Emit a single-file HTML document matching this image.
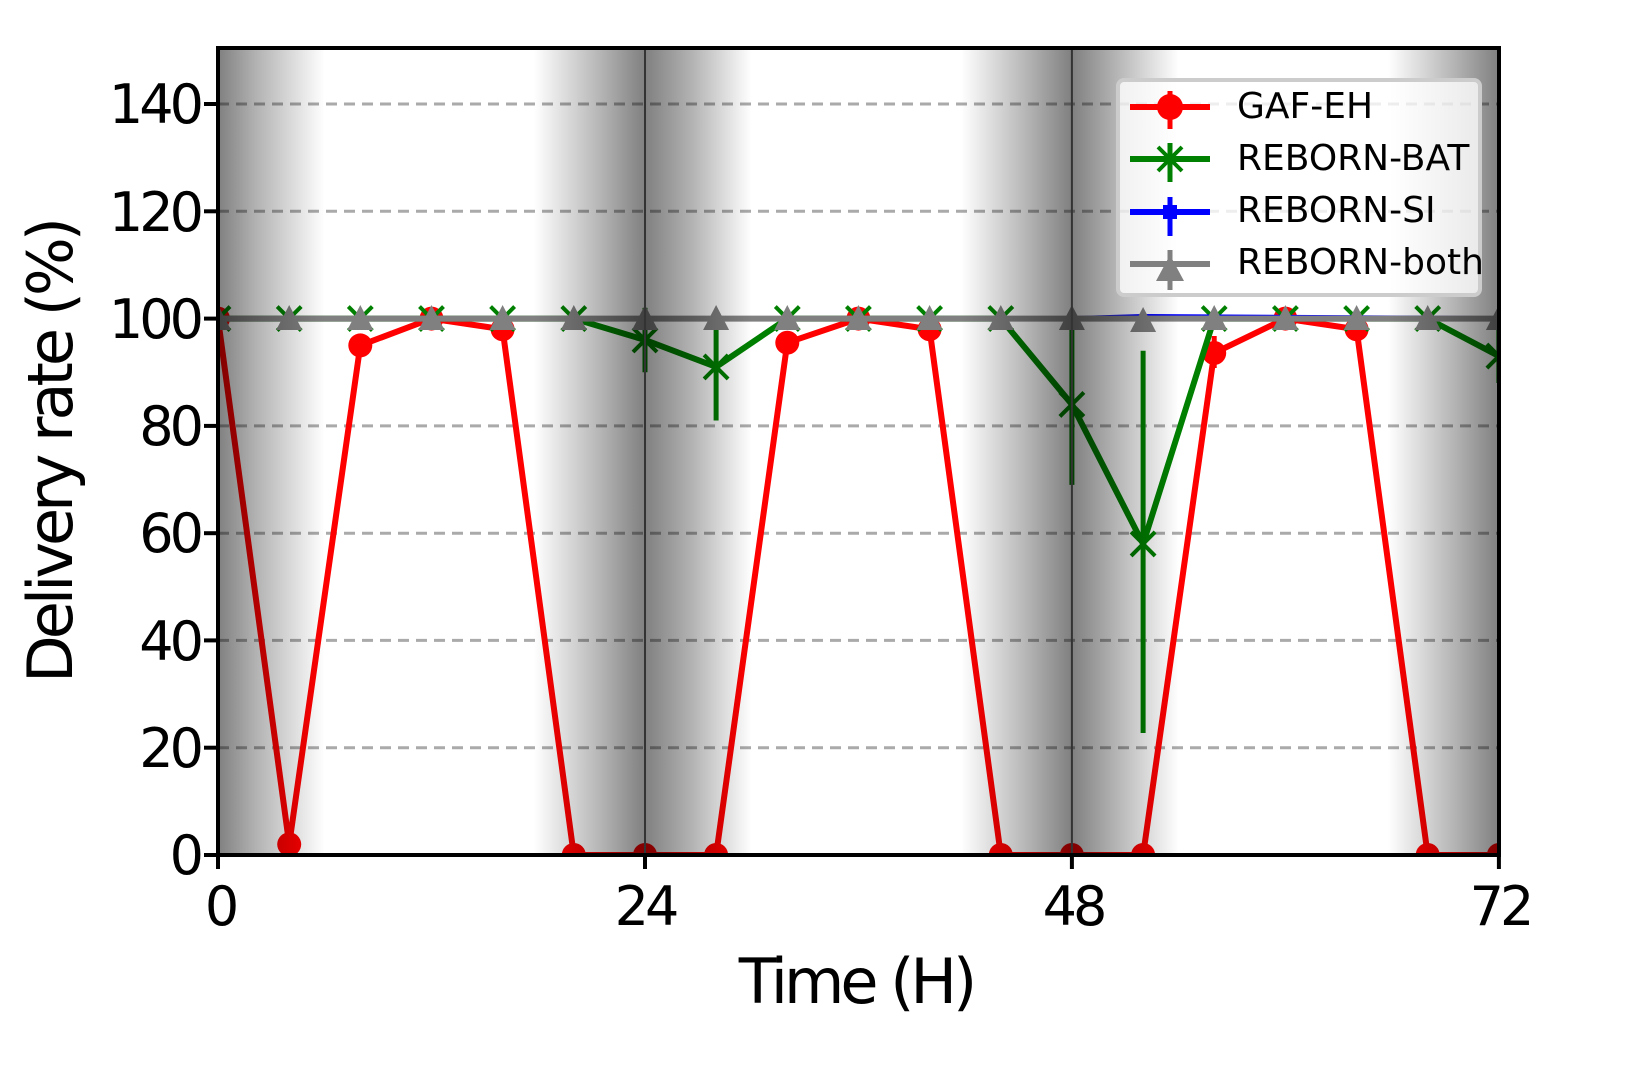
<!DOCTYPE html>
<html><head><meta charset="utf-8"><style>
html,body{margin:0;padding:0;background:#fff;}
svg{display:block;}
text{font-family:"DejaVu Sans","Liberation Sans",sans-serif;}
</style></head><body>
<svg width="1629" height="1082" viewBox="0 0 1629 1082" xmlns="http://www.w3.org/2000/svg">
<defs>
<linearGradient id="sh" x1="218" x2="1499" y1="0" y2="0" gradientUnits="userSpaceOnUse">
<stop offset="0" stop-color="#000" stop-opacity="0.5"/>
<stop offset="0.03" stop-color="#000" stop-opacity="0.3"/>
<stop offset="0.0833" stop-color="#000" stop-opacity="0"/>
<stop offset="0.2466" stop-color="#000" stop-opacity="0"/>
<stop offset="0.30" stop-color="#000" stop-opacity="0.3"/>
<stop offset="0.3333" stop-color="#000" stop-opacity="0.5"/>
<stop offset="0.37" stop-color="#000" stop-opacity="0.3"/>
<stop offset="0.4166" stop-color="#000" stop-opacity="0"/>
<stop offset="0.58" stop-color="#000" stop-opacity="0"/>
<stop offset="0.633" stop-color="#000" stop-opacity="0.3"/>
<stop offset="0.6666" stop-color="#000" stop-opacity="0.5"/>
<stop offset="0.70" stop-color="#000" stop-opacity="0.3"/>
<stop offset="0.75" stop-color="#000" stop-opacity="0"/>
<stop offset="0.9133" stop-color="#000" stop-opacity="0"/>
<stop offset="0.966" stop-color="#000" stop-opacity="0.3"/>
<stop offset="1" stop-color="#000" stop-opacity="0.5"/>
</linearGradient>
<clipPath id="cp"><rect x="218" y="48" width="1281" height="807"/></clipPath>
</defs>
<g stroke="#aaa" stroke-width="3" stroke-dasharray="11,7">
<line x1="218" x2="1499" y1="747.7" y2="747.7"/>
<line x1="218" x2="1499" y1="640.4" y2="640.4"/>
<line x1="218" x2="1499" y1="533.2" y2="533.2"/>
<line x1="218" x2="1499" y1="425.9" y2="425.9"/>
<line x1="218" x2="1499" y1="318.6" y2="318.6"/>
<line x1="218" x2="1499" y1="211.3" y2="211.3"/>
<line x1="218" x2="1499" y1="104" y2="104"/>
</g>
<g clip-path="url(#cp)">
<polyline fill="none" stroke="#f00" stroke-width="6" points="218,318.6 289.2,844.3 360.3,345.4 431.5,318.6 502.6,329.3 573.8,855 645,855 716.1,855 787.3,342.7 858.4,318.6 929.6,329.3 1000.8,855 1071.9,855 1143.1,855 1214.2,353 1285.4,318.6 1356.6,329.3 1427.7,855 1498.9,855"/>
<g fill="#f00">
<circle cx="218" cy="318.6" r="12"/><circle cx="289.2" cy="844.3" r="12"/><circle cx="360.3" cy="345.4" r="12"/><circle cx="431.5" cy="318.6" r="12"/><circle cx="502.6" cy="329.3" r="12"/><circle cx="573.8" cy="855" r="12"/><circle cx="645" cy="855" r="12"/><circle cx="716.1" cy="855" r="12"/><circle cx="787.3" cy="342.7" r="12"/><circle cx="858.4" cy="318.6" r="12"/><circle cx="929.6" cy="329.3" r="12"/><circle cx="1000.8" cy="855" r="12"/><circle cx="1071.9" cy="855" r="12"/><circle cx="1143.1" cy="855" r="12"/><circle cx="1214.2" cy="353" r="12"/><circle cx="1285.4" cy="318.6" r="12"/><circle cx="1356.6" cy="329.3" r="12"/><circle cx="1427.7" cy="855" r="12"/><circle cx="1498.9" cy="855" r="12"/>
</g>
<line x1="1214.2" x2="1214.2" y1="336" y2="368" stroke="#f00" stroke-width="5"/>
<polyline fill="none" stroke="#008000" stroke-width="6" points="218,318.6 289.2,318.6 360.3,318.6 431.5,318.6 502.6,318.6 573.8,318.6 645,340 716.1,366.9 787.3,318.6 858.4,318.6 929.6,318.6 1000.8,318.6 1071.9,404.4 1143.1,543.9 1214.2,318.6 1285.4,318.6 1356.6,318.6 1427.7,318.6 1498.9,356.1"/>
<g stroke="#008000" stroke-width="5">
<line x1="645" x2="645" y1="307.9" y2="372.2"/>
<line x1="716.1" x2="716.1" y1="318.6" y2="420.5"/>
<line x1="1071.9" x2="1071.9" y1="318.6" y2="484.9"/>
<line x1="1143.1" x2="1143.1" y1="350.8" y2="733"/>
<line x1="1498.9" x2="1498.9" y1="329.3" y2="383"/>
</g>
<g stroke="#008000" stroke-width="4" fill="none">
<path d="M206,306.6l24,24M230,306.6l-24,24M277.2,306.6l24,24M301.2,306.6l-24,24M348.3,306.6l24,24M372.3,306.6l-24,24M419.5,306.6l24,24M443.5,306.6l-24,24M490.6,306.6l24,24M514.6,306.6l-24,24M561.8,306.6l24,24M585.8,306.6l-24,24"/>
<path d="M633,328l24,24M657,328l-24,24M704.1,354.9l24,24M728.1,354.9l-24,24"/>
<path d="M775.3,306.6l24,24M799.3,306.6l-24,24M846.4,306.6l24,24M870.4,306.6l-24,24M917.6,306.6l24,24M941.6,306.6l-24,24M988.8,306.6l24,24M1012.8,306.6l-24,24"/>
<path d="M1059.9,392.4l24,24M1083.9,392.4l-24,24M1131.1,531.9l24,24M1155.1,531.9l-24,24"/>
<path d="M1202.2,306.6l24,24M1226.2,306.6l-24,24M1273.4,306.6l24,24M1297.4,306.6l-24,24M1344.6,306.6l24,24M1368.6,306.6l-24,24M1415.7,306.6l24,24M1439.7,306.6l-24,24M1486.9,344.1l24,24M1510.9,344.1l-24,24"/>
</g>
<polyline fill="none" stroke="#00f" stroke-width="5" points="218,318.6 1071.9,318.6 1143.1,316.5 1498.9,318.6"/>
<polyline fill="none" stroke="#808080" stroke-width="6" points="218,318.6 1498.9,318.6"/>
<g fill="#808080">
<path d="M218,305l-13,25h26zM289.2,305l-13,25h26zM360.3,305l-13,25h26zM431.5,305l-13,25h26zM502.6,305l-13,25h26zM573.8,305l-13,25h26zM645,305l-13,25h26zM716.1,305l-13,25h26zM787.3,305l-13,25h26zM858.4,305l-13,25h26zM929.6,305l-13,25h26zM1000.8,305l-13,25h26zM1071.9,305l-13,25h26zM1143.1,307l-13,25h26zM1214.2,305l-13,25h26zM1285.4,305l-13,25h26zM1356.6,305l-13,25h26zM1427.7,305l-13,25h26zM1498.9,305l-13,25h26z"/>
</g>
<rect x="218" y="48" width="1281" height="807" fill="url(#sh)"/>
</g>
<line x1="645" x2="645" y1="48" y2="855" stroke="#333" stroke-width="2"/>
<line x1="1071.9" x2="1071.9" y1="48" y2="855" stroke="#333" stroke-width="2"/>
<rect x="218" y="48" width="1281" height="807" fill="none" stroke="#000" stroke-width="4"/>
<g stroke="#000" stroke-width="4">
<line x1="204" x2="218" y1="855" y2="855"/><line x1="204" x2="218" y1="747.7" y2="747.7"/><line x1="204" x2="218" y1="640.4" y2="640.4"/><line x1="204" x2="218" y1="533.2" y2="533.2"/><line x1="204" x2="218" y1="425.9" y2="425.9"/><line x1="204" x2="218" y1="318.6" y2="318.6"/><line x1="204" x2="218" y1="211.3" y2="211.3"/><line x1="204" x2="218" y1="104" y2="104"/>
<line x1="218" x2="218" y1="855" y2="869"/><line x1="645" x2="645" y1="855" y2="869"/><line x1="1071.9" x2="1071.9" y1="855" y2="869"/><line x1="1498.9" x2="1498.9" y1="855" y2="869"/>
</g>
<g font-size="54" text-anchor="end" fill="#000" letter-spacing="-4">
<text x="200" y="874">0</text><text x="200" y="767">20</text><text x="200" y="660">40</text><text x="200" y="552">60</text><text x="200" y="445">80</text><text x="200" y="338">100</text><text x="200" y="231">120</text><text x="200" y="123">140</text>
</g>
<g font-size="54" text-anchor="middle" fill="#000" letter-spacing="-4">
<text x="220" y="925">0</text><text x="645" y="925">24</text><text x="1073" y="925">48</text><text x="1500" y="925">72</text>
</g>
<text x="856" y="1003" font-size="62" text-anchor="middle" letter-spacing="-4">Time (H)</text>
<text transform="translate(72,452) rotate(-90)" font-size="62" text-anchor="middle" letter-spacing="-4">Delivery rate (%)</text>
<rect x="1118" y="80" width="362" height="215" rx="6" fill="#fff" fill-opacity="0.8" stroke="#ccc" stroke-width="4"/>
<g>
<line x1="1130" x2="1210" y1="107" y2="107" stroke="#f00" stroke-width="6"/><line x1="1170" x2="1170" y1="91" y2="129" stroke="#f00" stroke-width="5"/><circle cx="1170" cy="107" r="13" fill="#f00"/>
<line x1="1130" x2="1210" y1="159" y2="159" stroke="#008000" stroke-width="6"/><line x1="1170" x2="1170" y1="143" y2="182" stroke="#008000" stroke-width="5"/><path d="M1158,147l24,24M1182,147l-24,24" stroke="#008000" stroke-width="4"/>
<line x1="1130" x2="1210" y1="212" y2="212" stroke="#00f" stroke-width="6"/><line x1="1170" x2="1170" y1="197" y2="236" stroke="#00f" stroke-width="5"/><rect x="1163" y="205" width="14" height="14" fill="#00f"/>
<line x1="1130" x2="1210" y1="264" y2="264" stroke="#808080" stroke-width="6"/><line x1="1170" x2="1170" y1="250" y2="290" stroke="#808080" stroke-width="5"/><path d="M1170,255l-14,26h28z" fill="#808080"/>
</g>
<g font-size="36" fill="#000">
<text x="1237" y="118">GAF-EH</text><text x="1237" y="170">REBORN-BAT</text><text x="1237" y="222">REBORN-SI</text><text x="1237" y="274">REBORN-both</text>
</g>
</svg>
</body></html>
